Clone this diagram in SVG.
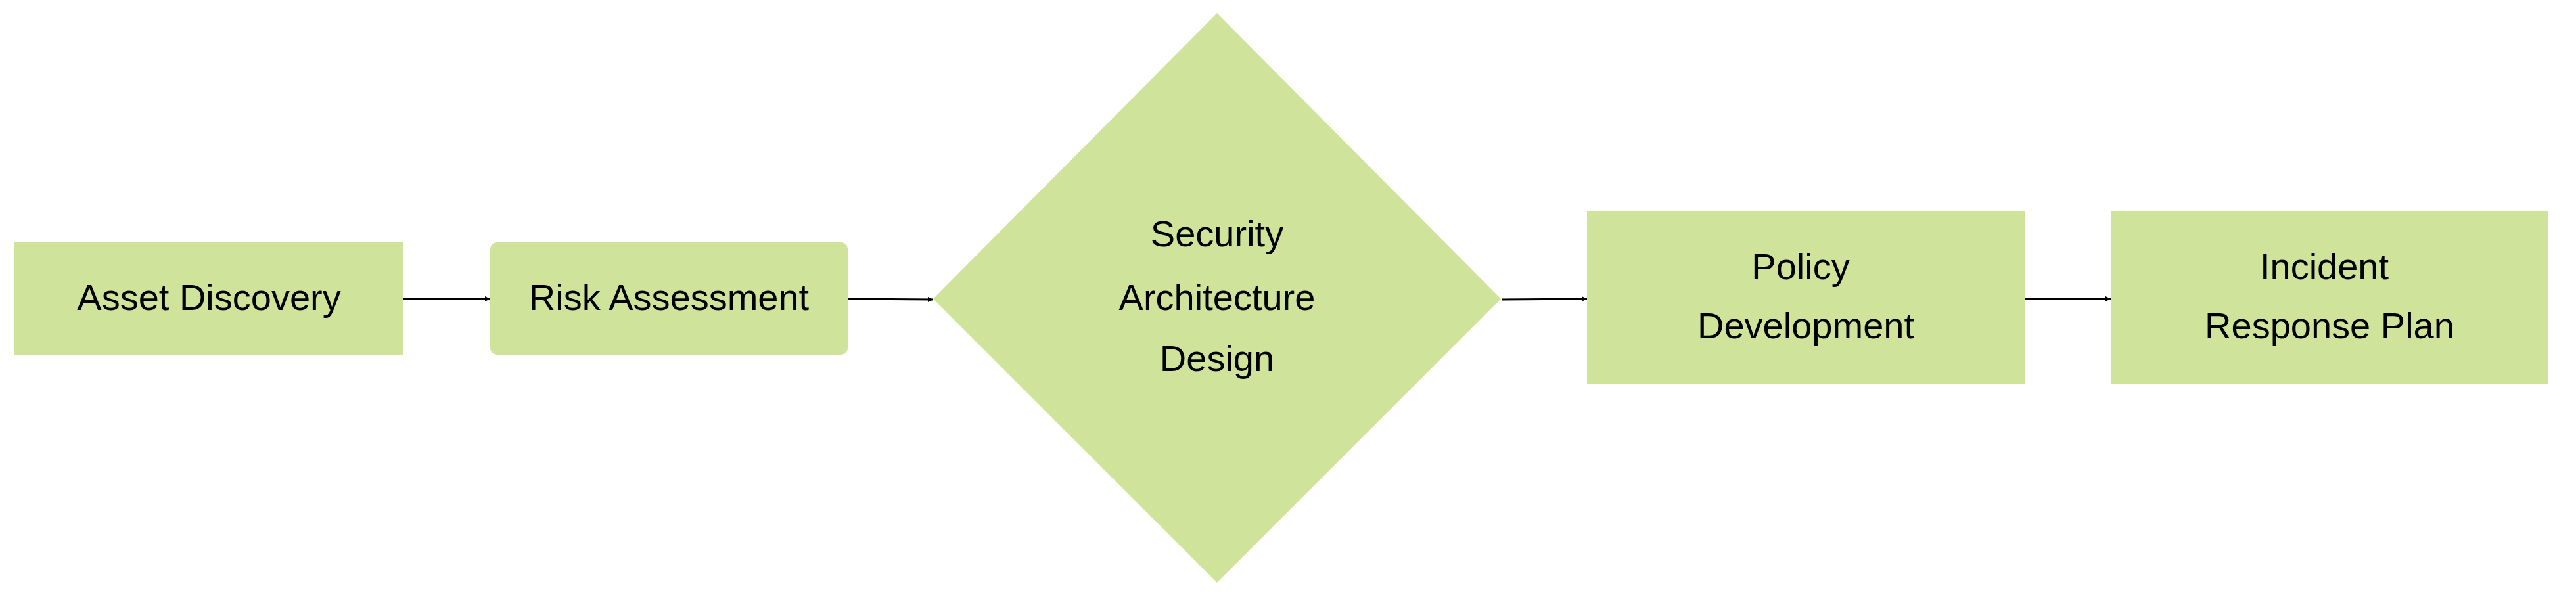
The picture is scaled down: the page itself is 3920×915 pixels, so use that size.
<svg xmlns="http://www.w3.org/2000/svg" width="3920" height="915" viewBox="0 0 3920 915">
<style>
.n{fill:#cfe39a}
.t{font-family:"Liberation Sans",Arial,sans-serif;font-size:56px;fill:#000;text-anchor:middle}
.c{stroke:#000;stroke-width:3;fill:none;marker-end:url(#a)}
</style>
<defs><marker id="a" viewBox="0 0 10 10" refX="10" refY="5" markerWidth="8" markerHeight="8" orient="auto" markerUnits="userSpaceOnUse"><path d="M0,0L10,5L0,10z"/></marker></defs>
<rect width="3920" height="915" fill="#fff"/>
<g id="asset"><rect class="n" x="21" y="369" width="593" height="171"/><text class="t" x="318" y="472">Asset Discovery</text></g>
<g id="risk"><rect class="n" x="746" y="369" width="544" height="171" rx="10"/><text class="t" x="1018" y="472">Risk Assessment</text></g>
<g id="arch"><polygon class="n" points="1852,20 2284,455 1852,887 1420,455"/><text class="t" x="1852" y="375">Security</text><text class="t" x="1852" y="472">Architecture</text><text class="t" x="1852" y="565">Design</text></g>
<g id="policy"><rect class="n" x="2415" y="322" width="666" height="263"/><text class="t" x="2740" y="425">Policy</text><text class="t" x="2748" y="515">Development</text></g>
<g id="incident"><rect class="n" x="3212" y="322" width="666" height="263"/><text class="t" x="3537" y="425">Incident</text><text class="t" x="3545" y="515">Response Plan</text></g>
<g id="connectors">
<path class="c" d="M614,455H746"/>
<path class="c" d="M1290,455L1420,456"/>
<path class="c" d="M2286,456L2415,455"/>
<path class="c" d="M3081,455H3212"/>
</g>
</svg>
